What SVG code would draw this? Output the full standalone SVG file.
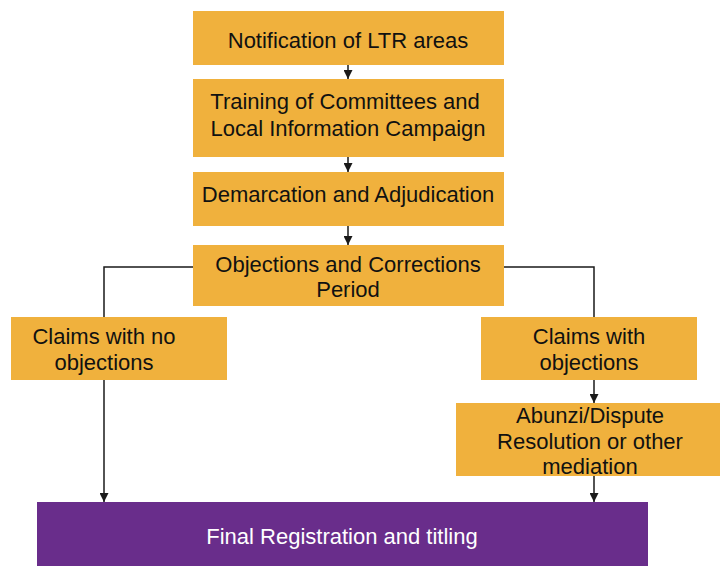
<svg xmlns="http://www.w3.org/2000/svg" width="720" height="566" viewBox="0 0 720 566">
<defs>
<marker id="ah" viewBox="0 0 10 10" refX="10" refY="5" markerWidth="9" markerHeight="9" markerUnits="userSpaceOnUse" orient="auto">
<path d="M0,0 L10,5 L0,10 z" fill="#1a1a1a"/>
</marker>
<style>
.box{fill:#F0B13D}
.fin{fill:#692D8B}
.t{font-family:"Liberation Sans",Arial,sans-serif;font-size:22px;fill:#111;text-anchor:middle}
.tw{font-family:"Liberation Sans",Arial,sans-serif;font-size:22px;fill:#fff;text-anchor:middle}
.c{fill:none;stroke:#1a1a1a;stroke-width:1.5}
</style>
</defs>
<rect width="720" height="566" fill="#fff"/>
<g id="connectors">
<path class="c" d="M348,65 V79" marker-end="url(#ah)"/>
<path class="c" d="M348,157 V172" marker-end="url(#ah)"/>
<path class="c" d="M348,226 V245" marker-end="url(#ah)"/>
<path class="c" d="M193,267 H104 V317"/>
<path class="c" d="M504,267 H594 V317"/>
<path class="c" d="M104,380 V502" marker-end="url(#ah)"/>
<path class="c" d="M594,380 V403" marker-end="url(#ah)"/>
<path class="c" d="M594,476 V502" marker-end="url(#ah)"/>
</g>
<g id="n1"><rect class="box" x="193" y="11" width="311" height="54"/><text class="t" x="348" y="48">Notification of LTR areas</text></g>
<g id="n2"><rect class="box" x="193" y="79" width="311" height="78"/><text class="t" x="345" y="109">Training of Committees and</text><text class="t" x="348" y="136">Local Information Campaign</text></g>
<g id="n3"><rect class="box" x="193" y="172" width="311" height="54"/><text class="t" x="348" y="202">Demarcation and Adjudication</text></g>
<g id="n4"><rect class="box" x="193" y="245" width="311" height="61"/><text class="t" x="348" y="272">Objections and Corrections</text><text class="t" x="348" y="297">Period</text></g>
<g id="n5"><rect class="box" x="11" y="317" width="216" height="63"/><text class="t" x="104" y="344">Claims with no</text><text class="t" x="104" y="370">objections</text></g>
<g id="n6"><rect class="box" x="481" y="317" width="216" height="63"/><text class="t" x="589" y="344">Claims with</text><text class="t" x="589" y="370">objections</text></g>
<g id="n7"><rect class="box" x="456" y="403" width="264" height="73"/><text class="t" x="590" y="423">Abunzi/Dispute</text><text class="t" x="590" y="449">Resolution or other</text><text class="t" x="590" y="474">mediation</text></g>
<g id="n8"><rect class="fin" x="37" y="502" width="611" height="64"/><text class="tw" x="342" y="544">Final Registration and titling</text></g>
</svg>
